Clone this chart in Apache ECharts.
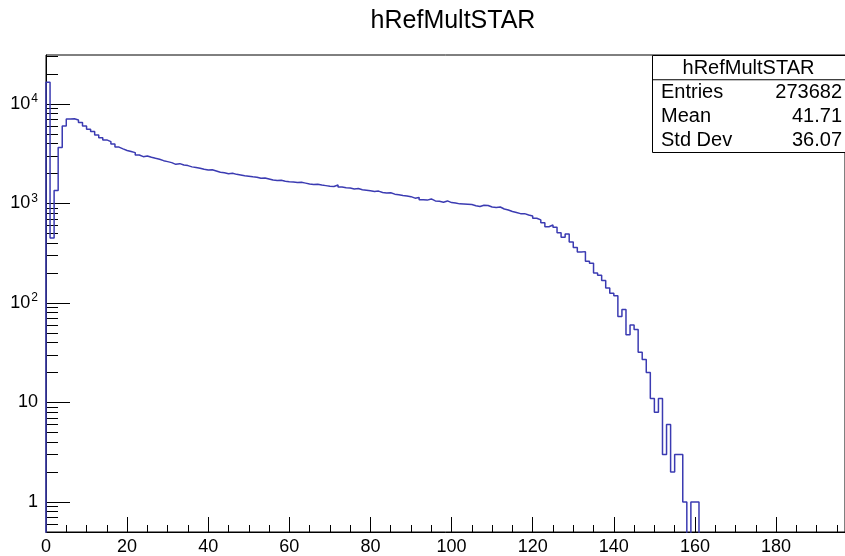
<!DOCTYPE html>
<html><head><meta charset="utf-8">
<script src="https://cdn.jsdelivr.net/npm/echarts@6/dist/echarts.min.js"></script>
<style>html,body{margin:0;padding:0;background:#fff}#c{width:845px;height:556px}</style>
</head><body><div id="c"></div>
<script>
const histTitle = 'hRefMultSTAR';
// bin k covers [k, k+1)
const counts = [
16500, 450, 1350, 3650, 6000, 7050, 7080, 6900, 6500, 6000,
5560, 5270, 4880, 4580, 4350, 4180, 3960, 3680, 3530, 3400,
3320, 3240, 3070, 2950, 3000, 2910, 2840, 2780, 2690, 2630,
2570, 2470, 2510, 2430, 2400, 2330, 2300, 2260, 2210, 2170,
2180, 2120, 2060, 2030, 1990, 2010, 1960, 1930, 1900, 1880,
1850, 1830, 1790, 1800, 1760, 1720, 1700, 1710, 1670, 1650,
1640, 1620, 1630, 1600, 1570, 1550, 1560, 1530, 1510, 1490,
1480, 1530, 1460, 1440, 1430, 1400, 1410, 1370, 1360, 1340,
1320, 1330, 1290, 1270, 1280, 1240, 1220, 1200, 1190, 1170,
1130, 1150, 1090, 1080, 1110, 1060, 1050, 1030, 1060, 1020,
1010, 990, 985, 980, 975, 950, 930, 960, 955, 920,
910, 920, 880, 860, 830, 810, 790, 790, 765, 748,
710, 683, 641, 584, 608, 577, 509, 457, 494, 410,
360, 325, 328, 262, 250, 200, 190, 168, 141, 125,
118, 73, 86, 48, 60, 54, 32, 27, 20, 11,
8, 11, 3, 6, 2, 3, 3, 1, 0, 1,
1
];
const statLabels = ['Entries', 'Mean', 'Std Dev'];
const statValues = ['273682', '41.71', '36.07'];
const xTickValues = [0, 20, 40, 60, 80, 100, 120, 140, 160, 180];
const yTickValues = [1, 10, 100, 1000, 10000];

const X_MIN = 0, X_MAX = 197, Y_MIN = 0.5, Y_MAX = 31000;
const FONT = 'Liberation Sans';
const LINE_COLOR = '#3b3bb2';

// minor tick positions
const xMinor = [];
for (let v = 5; v < X_MAX; v += 5) if (v % 20 !== 0) xMinor.push(v);
const yMinor = [];
[0.1, 1, 10, 100, 1000, 10000].forEach(d => {
  for (let m = 2; m <= 9; m++) { const v = +(m * d).toPrecision(6); if (v > Y_MIN && v < Y_MAX) yMinor.push(v); }
});

// step outline of histogram; empty bins drop below the frame (clipped)
const FLOOR = 1e-3;
const pts = [[0, FLOOR]];
counts.forEach((c, k) => pts.push([k, c > 0 ? c : FLOOR]));
pts.push([counts.length, FLOOR]);

const chart = echarts.init(document.getElementById('c'), null, {renderer: 'canvas'});

function yFmt(v) {
  const e = Math.round(Math.log10(v));
  if (e === 0) return '{b|1}';
  if (e === 1) return '{b|10}';
  return '{b|10}{s|' + e + '}';
}

const gridL = 46, gridT = 55, gridW = 800, gridH = 477;
const boxX = 652, boxY = 55, boxW = 193, boxH = 97, rowH = boxH / 4;

const graphics = [
  {type: 'rect', shape: {x: boxX + 0.5, y: boxY + 0.5, width: boxW, height: boxH}, style: {fill: '#fff', stroke: '#000', lineWidth: 1}, z: 100},
  {type: 'line', shape: {x1: boxX, y1: boxY + rowH + 0.5, x2: boxX + boxW, y2: boxY + rowH + 0.5}, style: {stroke: '#000', lineWidth: 1}, z: 101},
  {type: 'text', x: boxX + boxW / 2, y: boxY + rowH / 2 + 1, style: {text: histTitle, font: '20px "' + FONT + '"', fill: '#000', textAlign: 'center', textVerticalAlign: 'middle'}, z: 101}
];
statLabels.forEach((l, i) => {
  const cy = boxY + rowH * (i + 1.5) + 1;
  graphics.push({type: 'text', x: boxX + 9, y: cy, style: {text: l, font: '20px "' + FONT + '"', fill: '#000', textAlign: 'left', textVerticalAlign: 'middle'}, z: 101});
  graphics.push({type: 'text', x: boxX + boxW - 3, y: cy, style: {text: statValues[i], font: '20px "' + FONT + '"', fill: '#000', textAlign: 'right', textVerticalAlign: 'middle'}, z: 101});
});

const option = {
  animation: false,
  backgroundColor: '#fff',
  title: {text: histTitle, left: 448, top: 4, textAlign: 'center',
    textStyle: {fontFamily: FONT, fontSize: 25, fontWeight: 'normal', color: '#000'}},
  grid: {left: gridL, top: gridT, width: gridW, height: gridH, show: true, borderColor: '#000', borderWidth: 1, backgroundColor: 'transparent'},
  xAxis: [
    {type: 'value', min: X_MIN, max: X_MAX, position: 'bottom',
      axisLine: {show: true, onZero: false, lineStyle: {color: '#000', width: 1}},
      axisTick: {show: true, inside: true, length: 15, customValues: xTickValues, lineStyle: {color: '#000'}},
      axisLabel: {show: true, customValues: xTickValues, margin: 6, fontFamily: FONT, fontSize: 18, color: '#000'},
      splitLine: {show: false}},
    {type: 'value', min: X_MIN, max: X_MAX, position: 'bottom',
      axisLine: {show: false, onZero: false},
      axisTick: {show: true, inside: true, length: 7, customValues: xMinor, lineStyle: {color: '#000'}},
      axisLabel: {show: false}, splitLine: {show: false}}
  ],
  yAxis: [
    {type: 'log', logBase: 10, min: Y_MIN, max: Y_MAX, position: 'left',
      axisLine: {show: true, onZero: false, lineStyle: {color: '#000', width: 1}},
      axisTick: {show: true, inside: true, length: 24, customValues: yTickValues, lineStyle: {color: '#000'}},
      axisLabel: {show: true, customValues: yTickValues, margin: 8, formatter: yFmt,
        rich: {b: {fontFamily: FONT, fontSize: 18, color: '#000'}, s: {fontFamily: FONT, fontSize: 12, color: '#000', verticalAlign: 'top', padding: [0, 0, 10, 1]}}},
      splitLine: {show: false}},
    {type: 'log', logBase: 10, min: Y_MIN, max: Y_MAX, position: 'left',
      axisLine: {show: false, onZero: false},
      axisTick: {show: true, inside: true, length: 12, customValues: yMinor, lineStyle: {color: '#000'}},
      axisLabel: {show: false}, splitLine: {show: false}}
  ],
  series: [{
    type: 'line', xAxisIndex: 0, yAxisIndex: 0, data: pts, step: 'end', showSymbol: false, symbol: 'none',
    clip: true, lineStyle: {color: LINE_COLOR, width: 1.5}, z: 5
  }],
  graphic: graphics
};
chart.setOption(option);
</script></body></html>
